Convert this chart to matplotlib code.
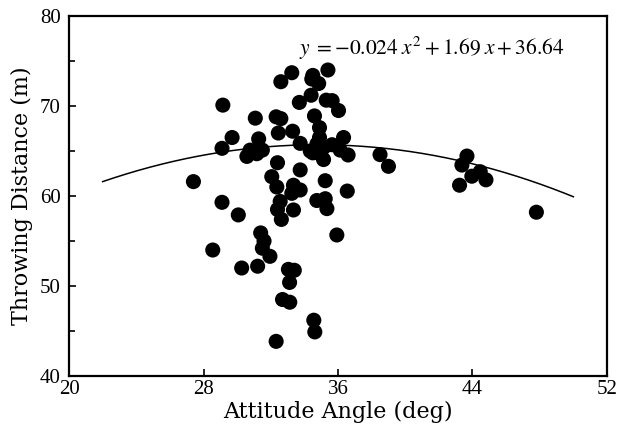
import numpy as np
import matplotlib
matplotlib.use("Agg")
import matplotlib.pyplot as plt
from matplotlib.ticker import MultipleLocator

angle = [27.4, 28.55, 29.15, 29.7, 29.1, 29.1, 30.07, 30.27, 31.08, 31.28,
         30.58, 30.77, 31.17, 31.5, 31.22, 31.4, 31.6, 31.5, 31.95, 32.32,
         32.6, 32.45, 33.3, 32.6, 33.25, 32.4, 33.7, 34.4, 34.5, 34.44,
         34.85, 35.4, 35.3, 35.65, 36.03, 34.6, 34.9, 34.9, 36.33, 33.75,
         34.35, 34.75, 34.84, 35.14, 35.15, 35.65, 36.13, 36.6, 33.75, 35.24,
         36.55, 32.06, 32.36, 33.35, 33.25, 33.75, 32.56, 32.4, 33.35, 32.63,
         34.74, 35.24, 35.34, 35.93, 33.05, 33.4, 33.12, 32.7, 33.13, 34.56,
         34.62, 32.32, 38.5, 39.0, 43.67, 43.37, 44.46, 43.96, 44.8, 43.23,
         47.8, 34.5]
distance = [61.6, 54.0, 70.1, 66.5, 65.3, 59.3, 57.9, 52.0, 68.65, 66.35,
            64.4, 65.1, 64.7, 65.1, 52.2, 55.9, 55.0, 54.2, 53.3, 68.8,
            68.6, 67.0, 67.2, 72.7, 73.7, 63.7, 70.4, 71.2, 73.4, 73.0,
            72.5, 74.0, 70.65, 70.6, 69.5, 68.9, 67.6, 66.5, 66.5, 65.85,
            65.0, 65.8, 64.75, 64.05, 65.4, 65.7, 65.1, 64.56, 62.9, 61.7,
            60.55, 62.15, 61.0, 61.2, 60.3, 60.67, 59.4, 58.5, 58.45, 57.4,
            59.5, 59.7, 58.6, 55.67, 51.85, 51.75, 50.4, 48.5, 48.2, 46.2,
            44.9, 43.85, 64.6, 63.3, 64.44, 63.44, 62.7, 62.2, 61.8, 61.2,
            58.2, 64.8]

x_ticks = [20, 28, 36, 44, 52]
y_ticks = [40, 50, 60, 70, 80]

# quadratic trend as drawn in the figure
coef = [-0.025, 1.74, 35.42]
curve_range = [22.0, 50.0]
equation = r'$y\;=-0.024\;x^{2}+1.69\;x+36.64$'

plt.rcParams['font.family'] = ['Liberation Serif', 'DejaVu Serif']
plt.rcParams['mathtext.fontset'] = 'stix'

fig = plt.figure(figsize=(6.23, 4.33), dpi=100)
ax = fig.add_axes([0.1108, 0.1316, 0.8635, 0.8314])

xc = np.linspace(curve_range[0], curve_range[1], 200)
ax.plot(xc, np.polyval(coef, xc), color='black', lw=1.1)
ax.scatter(angle, distance, s=118, color='black', edgecolors='none', zorder=3)

ax.set_xlim(20, 52)
ax.set_ylim(40, 80)
ax.set_xticks(x_ticks)
ax.set_yticks(y_ticks)
ax.yaxis.set_minor_locator(MultipleLocator(5))
ax.tick_params(which='both', direction='in', width=1.2, labelsize=15)
ax.tick_params(which='major', length=5)
ax.tick_params(which='minor', length=4)
ax.tick_params(axis='x', pad=3)
ax.tick_params(axis='y', pad=6)
for sp in ax.spines.values():
    sp.set_linewidth(1.6)

ax.set_xlabel('Attitude Angle (deg)', fontsize=16, labelpad=1,
              family='DejaVu Serif')
ax.set_ylabel('Throwing Distance (m)', fontsize=16, labelpad=5,
              family='DejaVu Serif')
ax.text(0.428, 0.911, equation, transform=ax.transAxes, fontsize=15.5,
        ha='left', va='center')

fig.savefig('out.png', dpi=100)
